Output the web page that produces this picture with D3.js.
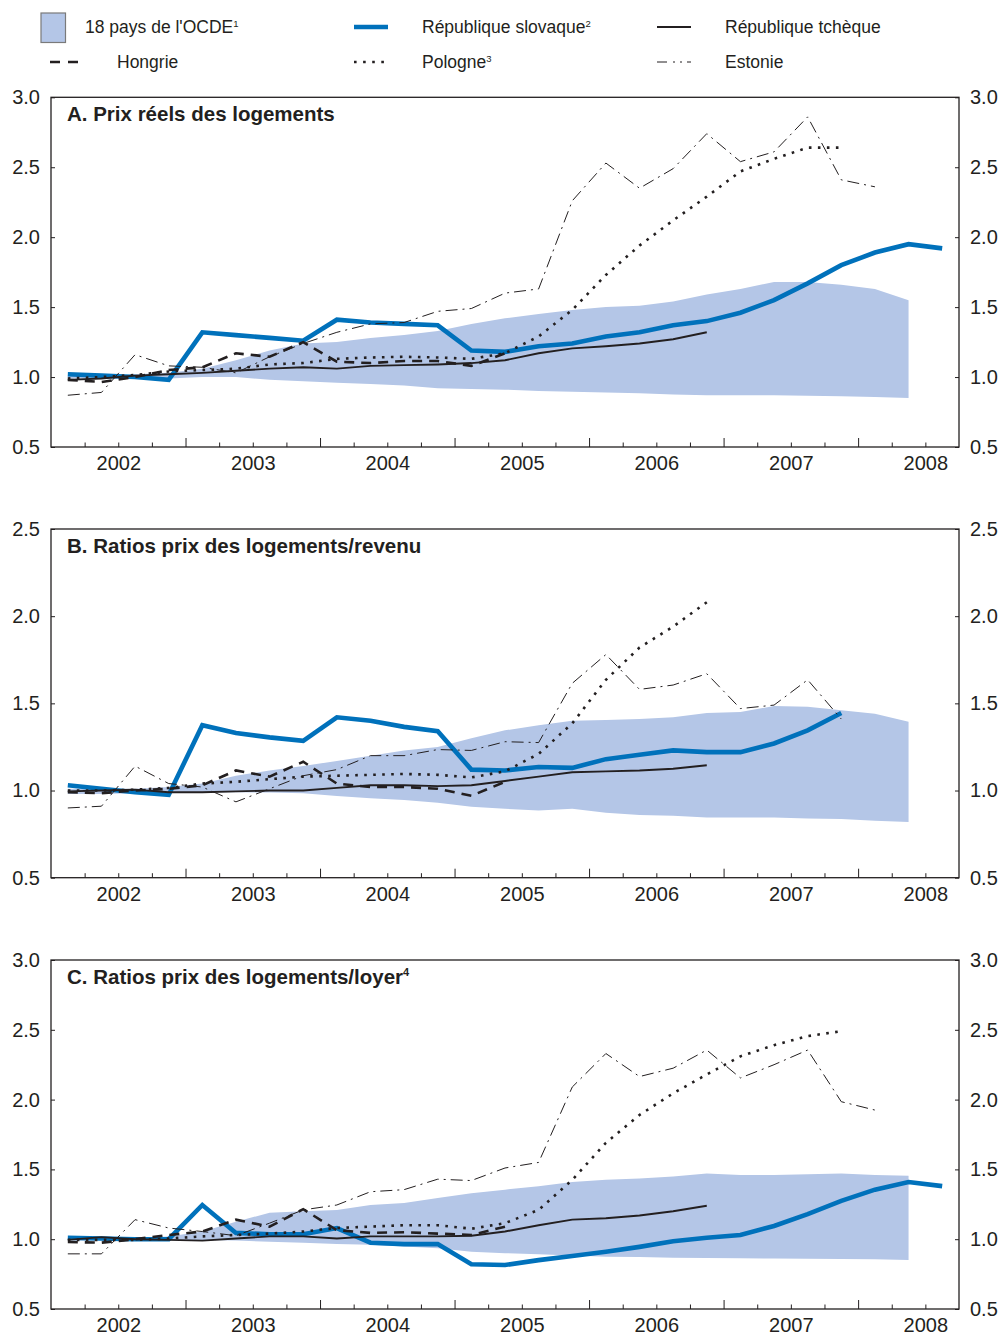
<!DOCTYPE html>
<html>
<head>
<meta charset="utf-8">
<script src="https://cdn.jsdelivr.net/npm/d3@7"></script>
<style>
  body { margin: 0; background: #fff; }
  svg { display: block; }
  text { font-family: "Liberation Sans", Arial, Helvetica, sans-serif; fill: #231f20; }
</style>
</head>
<body>
<svg id="chart" width="1002" height="1337"></svg>
<script>
// Quarterly periods, 2002 T1 to 2008 T3
const periods = ["2002T1","2002T2","2002T3","2002T4","2003T1","2003T2","2003T3","2003T4",
  "2004T1","2004T2","2004T3","2004T4","2005T1","2005T2","2005T3","2005T4",
  "2006T1","2006T2","2006T3","2006T4","2007T1","2007T2","2007T3","2007T4",
  "2008T1","2008T2","2008T3"];
const years = ["2002","2003","2004","2005","2006","2007","2008"];

// A. Real house prices
const aSlovaquie = [1.02,1.01,1.00,0.98,1.32,1.30,1.28,1.26,1.41,1.39,1.38,1.37,1.19,1.18,1.22,1.24,1.29,1.32,1.37,1.40,1.46,1.55,1.67,1.80,1.89,1.95,1.92];
const aTcheque   = [0.98,0.99,1.01,1.02,1.03,1.045,1.06,1.07,1.06,1.08,1.085,1.09,1.10,1.12,1.17,1.205,1.22,1.24,1.27,1.32];
const aHongrie   = [0.98,0.965,1.00,1.05,1.07,1.17,1.145,1.25,1.11,1.10,1.115,1.115,1.08,1.17];
const aPologne   = [0.99,1.00,1.015,1.04,1.05,1.06,1.09,1.10,1.13,1.14,1.145,1.14,1.13,1.17,1.29,1.48,1.73,1.94,2.12,2.29,2.47,2.56,2.64,2.64];
const aEstonie   = [0.87,0.89,1.16,1.08,1.07,1.03,1.145,1.24,1.32,1.38,1.39,1.47,1.49,1.60,1.63,2.26,2.53,2.35,2.49,2.74,2.54,2.61,2.86,2.41,2.36];
const aOcdeHaut  = [1.01,1.01,1.02,1.03,1.06,1.12,1.19,1.24,1.25,1.28,1.30,1.33,1.38,1.42,1.45,1.48,1.50,1.51,1.54,1.59,1.63,1.68,1.68,1.66,1.63,1.55];
const aOcdeBas   = [0.99,0.99,0.99,0.99,1.00,1.00,0.98,0.97,0.96,0.95,0.94,0.92,0.915,0.91,0.90,0.895,0.89,0.885,0.875,0.87,0.87,0.87,0.867,0.862,0.857,0.85];

// B. House price to income ratios
const bSlovaquie = [1.03,1.01,0.99,0.975,1.375,1.33,1.305,1.285,1.42,1.40,1.365,1.34,1.12,1.115,1.135,1.13,1.18,1.205,1.23,1.22,1.22,1.27,1.345,1.445];
const bTcheque   = [0.995,1.00,1.005,0.99,0.99,0.995,1.00,1.00,1.015,1.03,1.03,1.025,1.03,1.055,1.08,1.105,1.11,1.115,1.125,1.145];
const bHongrie   = [0.99,0.985,1.00,1.01,1.03,1.115,1.08,1.165,1.04,1.02,1.02,1.01,0.97,1.05];
const bPologne   = [1.00,1.00,1.005,1.015,1.04,1.05,1.065,1.08,1.085,1.09,1.095,1.09,1.075,1.11,1.21,1.385,1.635,1.82,1.94,2.08];
const bEstonie   = [0.90,0.91,1.14,1.04,1.02,0.935,1.01,1.085,1.12,1.20,1.20,1.235,1.23,1.28,1.275,1.615,1.78,1.58,1.605,1.67,1.47,1.49,1.635,1.41];
const bOcdeHaut  = [1.01,1.01,1.01,1.02,1.04,1.085,1.115,1.14,1.17,1.20,1.23,1.25,1.30,1.345,1.375,1.40,1.405,1.41,1.42,1.445,1.45,1.485,1.48,1.46,1.44,1.395];
const bOcdeBas   = [0.98,0.98,0.985,0.99,0.99,0.99,0.988,0.985,0.968,0.955,0.945,0.93,0.907,0.895,0.885,0.895,0.873,0.86,0.855,0.845,0.845,0.845,0.84,0.837,0.827,0.82];

// C. House price to rent ratios
const cSlovaquie = [1.01,1.005,1.00,1.00,1.245,1.045,1.035,1.035,1.08,0.975,0.965,0.965,0.82,0.815,0.85,0.88,0.91,0.945,0.985,1.01,1.03,1.095,1.18,1.275,1.355,1.41,1.38];
const cTcheque   = [0.995,1.015,1.00,0.995,0.99,1.005,1.02,1.02,1.005,1.02,1.02,1.02,1.025,1.055,1.10,1.14,1.15,1.17,1.20,1.24];
const cHongrie   = [0.98,0.975,1.00,1.03,1.055,1.14,1.09,1.215,1.065,1.045,1.05,1.04,1.03,1.09];
const cPologne   = [0.995,0.995,0.995,1.005,1.02,1.03,1.04,1.055,1.08,1.09,1.10,1.10,1.075,1.115,1.21,1.425,1.69,1.89,2.045,2.18,2.31,2.39,2.455,2.49];
const cEstonie   = [0.895,0.895,1.14,1.08,1.055,1.025,1.115,1.21,1.245,1.34,1.355,1.43,1.42,1.51,1.55,2.09,2.33,2.165,2.225,2.355,2.155,2.25,2.355,1.985,1.925];
const cOcdeHaut  = [1.01,1.01,1.01,1.02,1.055,1.125,1.19,1.20,1.21,1.245,1.26,1.295,1.33,1.355,1.38,1.41,1.425,1.435,1.45,1.47,1.46,1.46,1.465,1.47,1.46,1.455];
const cOcdeBas   = [0.99,0.99,0.99,0.99,0.995,0.99,0.982,0.975,0.966,0.96,0.947,0.935,0.91,0.90,0.892,0.884,0.875,0.872,0.868,0.865,0.863,0.862,0.86,0.858,0.856,0.851];

// Axis ticks
const ticksA = [0.5,1.0,1.5,2.0,2.5,3.0];
const ticksB = [0.5,1.0,1.5,2.0,2.5];
const ticksC = [0.5,1.0,1.5,2.0,2.5,3.0];

const BAND = "#b4c6e7";
const BLUE = "#0071bb";
const INK = "#231f20";
const FONT = '"Liberation Sans", Arial, sans-serif';

const styles = {
  slovaquie: { stroke: BLUE, width: 4.6, dash: null },
  tcheque:   { stroke: INK, width: 1.9, dash: null },
  hongrie:   { stroke: INK, width: 2.6, dash: "10,7" },
  pologne:   { stroke: INK, width: 2.6, dash: "2.6,6.4" },
  estonie:   { stroke: INK, width: 1.0, dash: "12,5,2,5" }
};

const svg = d3.select("#chart");
const left = 51, right = 959;
const xq = d3.scaleLinear().domain([0, periods.length]).range([left, right]);
const cx = i => xq(i + 0.5);

const panels = [
  { title: "A. Prix réels des logements", sup: null, top: 97.3, bottom: 447, domain: [0.5, 3.0], ticks: ticksA,
    hi: aOcdeHaut, lo: aOcdeBas, slovaquie: aSlovaquie, tcheque: aTcheque, hongrie: aHongrie, pologne: aPologne, estonie: aEstonie },
  { title: "B. Ratios prix des logements/revenu", sup: null, top: 529, bottom: 877.7, domain: [0.5, 2.5], ticks: ticksB,
    hi: bOcdeHaut, lo: bOcdeBas, slovaquie: bSlovaquie, tcheque: bTcheque, hongrie: bHongrie, pologne: bPologne, estonie: bEstonie },
  { title: "C. Ratios prix des logements/loyer", sup: "4", top: 960, bottom: 1309, domain: [0.5, 3.0], ticks: ticksC,
    hi: cOcdeHaut, lo: cOcdeBas, slovaquie: cSlovaquie, tcheque: cTcheque, hongrie: cHongrie, pologne: cPologne, estonie: cEstonie }
];

panels.forEach(p => {
  const g = svg.append("g");
  const y = d3.scaleLinear().domain(p.domain).range([p.bottom, p.top]);

  // OECD range (shaded)
  const area = d3.area()
    .x((d, i) => cx(i))
    .y0((d, i) => y(p.lo[i]))
    .y1(d => y(d));
  g.append("path").datum(p.hi).attr("d", area).attr("fill", BAND);

  // Country series
  const line = d3.line().x((d, i) => cx(i)).y(d => y(d));
  ["slovaquie", "estonie", "pologne", "hongrie", "tcheque"].forEach(k => {
    const s = styles[k];
    g.append("path").datum(p[k]).attr("d", line)
      .attr("fill", "none").attr("stroke", s.stroke).attr("stroke-width", s.width)
      .attr("stroke-dasharray", s.dash).attr("stroke-linecap", "butt").attr("stroke-linejoin", "miter");
  });

  // Left and right value axes
  const fmt = d3.format(".1f");
  const ax = g.append("g").attr("transform", `translate(${left},0)`)
    .call(d3.axisLeft(y).tickValues(p.ticks).tickFormat(fmt).tickSizeInner(-4).tickSizeOuter(0).tickPadding(11));
  const ax2 = g.append("g").attr("transform", `translate(${right},0)`)
    .call(d3.axisRight(y).tickValues(p.ticks).tickFormat(fmt).tickSizeInner(-4).tickSizeOuter(0).tickPadding(11));
  [ax, ax2].forEach(a => {
    a.select(".domain").remove();
    a.selectAll("line").attr("stroke", INK).attr("stroke-width", 1);
    a.selectAll("text").attr("font-size", 20).attr("fill", INK).attr("font-family", FONT);
  });

  // Quarter ticks and year ticks along the time axis
  const qa = g.append("g").attr("transform", `translate(0,${p.bottom})`)
    .call(d3.axisBottom(xq).tickValues(d3.range(1, periods.length).filter(i => i % 4 !== 0))
      .tickSizeInner(-4.5).tickSizeOuter(0).tickFormat(""));
  const ya = g.append("g").attr("transform", `translate(0,${p.bottom})`)
    .call(d3.axisBottom(xq).tickValues(d3.range(4, periods.length, 4))
      .tickSizeInner(-9).tickSizeOuter(0).tickFormat(""));
  const yl = g.append("g").attr("transform", `translate(0,${p.bottom})`)
    .call(d3.axisBottom(xq).tickValues(years.map((yr, i) => i * 4 + 2))
      .tickSize(0).tickPadding(9).tickFormat((d, i) => years[i]));
  [qa, ya, yl].forEach(a => {
    a.select(".domain").remove();
    a.selectAll("line").attr("stroke", INK).attr("stroke-width", 1);
  });
  yl.selectAll("text").attr("font-size", 20).attr("fill", INK).attr("font-family", FONT);

  // Frame
  g.append("rect").attr("x", left).attr("y", p.top)
    .attr("width", right - left).attr("height", p.bottom - p.top)
    .attr("fill", "none").attr("stroke", INK).attr("stroke-width", 1.3);

  // Panel title
  const t = g.append("text").attr("x", 67).attr("y", p.top + 23.5)
    .attr("font-size", 20.5).attr("font-weight", "bold").text(p.title);
  if (p.sup) {
    t.append("tspan").attr("font-size", 11).attr("dy", -8).text(p.sup);
  }
});

// Legend
const legend = svg.append("g");
legend.append("rect").attr("x", 41).attr("y", 13).attr("width", 24.5).attr("height", 29.5)
  .attr("fill", BAND).attr("stroke", "#7a7a7a").attr("stroke-width", 1.2);

const legendItems = [
  { label: "18 pays de l'OCDE", sup: "1", tx: 85, ty: 27, key: null },
  { label: "République slovaque", sup: "2", tx: 422, ty: 27, key: "slovaquie", x0: 354, x1: 388 },
  { label: "République tchèque", sup: null, tx: 725, ty: 27, key: "tcheque", x0: 657, x1: 691 },
  { label: "Hongrie", sup: null, tx: 117, ty: 62, key: "hongrie", x0: 50, x1: 84 },
  { label: "Pologne", sup: "3", tx: 422, ty: 62, key: "pologne", x0: 354, x1: 384 },
  { label: "Estonie", sup: null, tx: 725, ty: 62, key: "estonie", x0: 657, x1: 691 }
];
const legendDash = { hongrie: "10,8", pologne: "2.6,6.5", estonie: "10,6,2,5,2,5" };
legendItems.forEach(it => {
  if (it.key) {
    const s = styles[it.key];
    legend.append("line").attr("x1", it.x0).attr("x2", it.x1).attr("y1", it.ty).attr("y2", it.ty)
      .attr("stroke", s.stroke).attr("stroke-width", s.width)
      .attr("stroke-dasharray", legendDash[it.key] || null);
  }
  const t = legend.append("text").attr("x", it.tx).attr("y", it.ty + 6).attr("font-size", 17.5).text(it.label);
  if (it.sup) t.append("tspan").attr("font-size", 9.5).attr("dy", -6).text(it.sup);
});
</script>
</body>
</html>
